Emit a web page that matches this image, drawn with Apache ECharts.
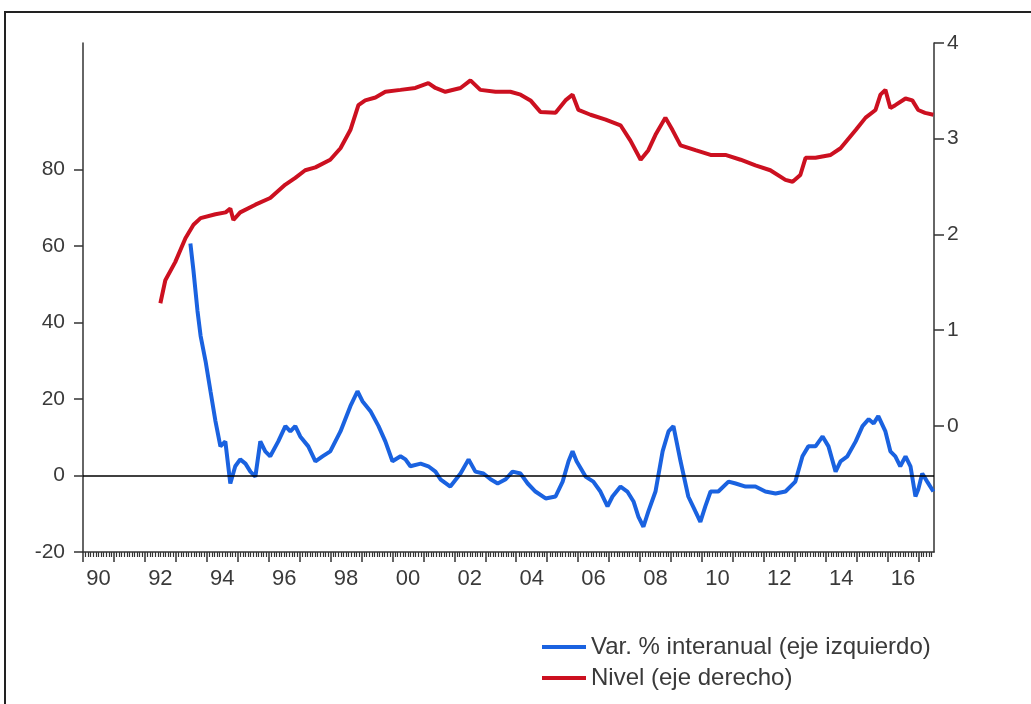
<!DOCTYPE html>
<html>
<head>
<meta charset="utf-8">
<script src="https://cdn.jsdelivr.net/npm/echarts@6/dist/echarts.min.js"></script>
<style>
  html, body { margin: 0; padding: 0; background: #fff; }
  #chart { width: 1031px; height: 704px; }
</style>
</head>
<body>
<div id="chart"></div>
<script>
// Var. % interanual (eje izquierdo)
const varYears = [
  1993.47, 1993.57, 1993.70, 1993.80, 1993.96, 1994.12, 1994.28, 1994.44, 1994.60, 1994.76,
  1994.92, 1995.08, 1995.25, 1995.41, 1995.57, 1995.73, 1995.89, 1996.05, 1996.31, 1996.54,
  1996.70, 1996.86, 1997.02, 1997.28, 1997.51, 1997.74, 1997.99, 1998.32, 1998.64, 1998.87,
  1999.03, 1999.29, 1999.55, 1999.77, 2000.00, 2000.26, 2000.42, 2000.58, 2000.91, 2001.16,
  2001.39, 2001.55, 2001.87, 2002.20, 2002.46, 2002.68, 2002.94, 2003.17, 2003.40, 2003.66,
  2003.88, 2004.14, 2004.37, 2004.62, 2004.95, 2005.27, 2005.50, 2005.69, 2005.82, 2005.95,
  2006.24, 2006.49, 2006.72, 2006.95, 2007.11, 2007.37, 2007.59, 2007.79, 2007.95, 2008.11,
  2008.27, 2008.50, 2008.73, 2008.92, 2009.08, 2009.31, 2009.56, 2009.79, 2009.95, 2010.11,
  2010.28, 2010.53, 2010.86, 2011.09, 2011.41, 2011.73, 2012.05, 2012.38, 2012.70, 2013.02,
  2013.25, 2013.44, 2013.67, 2013.90, 2014.09, 2014.32, 2014.48, 2014.70, 2014.97, 2015.19,
  2015.39, 2015.55, 2015.70, 2015.93, 2016.09, 2016.25, 2016.41, 2016.58, 2016.74, 2016.90,
  2016.99, 2017.12, 2017.28, 2017.48
];
const varValues = [
  60.6, 53.5, 43.0, 36.5, 29.9, 22.0, 14.2, 7.6, 8.9, -2.1,
  2.4, 4.2, 3.1, 1.0, -0.3, 8.9, 6.3, 5.0, 8.9, 12.9,
  11.5, 12.9, 10.2, 7.6, 3.7, 5.0, 6.3, 11.5, 18.1, 22.0,
  19.4, 16.8, 12.9, 8.9, 3.7, 5.0, 4.2, 2.4, 3.1, 2.4,
  1.0, -1.0, -2.9, 0.5, 4.2, 1.0, 0.5, -1.0, -2.1, -1.0,
  1.0, 0.5, -2.1, -4.2, -6.0, -5.5, -1.6, 3.7, 6.3, 3.7,
  -0.3, -1.6, -4.2, -8.1, -5.5, -2.9, -4.2, -6.8, -10.8, -13.4,
  -9.4, -4.2, 6.3, 11.5, 12.9, 3.7, -5.5, -9.4, -12.1, -8.1,
  -4.2, -4.2, -1.6, -2.1, -2.9, -2.9, -4.2, -4.7, -4.2, -1.6,
  5.0, 7.6, 7.6, 10.2, 7.6, 1.0, 3.7, 5.0, 8.9, 12.9,
  14.7, 13.6, 15.5, 11.5, 6.3, 5.0, 2.4, 5.0, 2.4, -5.5,
  -3.7, 0.5, -1.6, -4.2
];

// Nivel (eje derecho)
const nivelYears = [
  1992.50, 1992.66, 1992.98, 1993.31, 1993.57, 1993.80, 1994.28, 1994.61, 1994.76, 1994.86,
  1995.08, 1995.57, 1996.05, 1996.54, 1996.86, 1997.18, 1997.51, 1997.99, 1998.32, 1998.64,
  1998.90, 1999.12, 1999.45, 1999.77, 2000.26, 2000.74, 2001.16, 2001.39, 2001.71, 2002.20,
  2002.52, 2002.84, 2003.33, 2003.81, 2004.14, 2004.46, 2004.78, 2005.27, 2005.59, 2005.82,
  2006.01, 2006.40, 2006.89, 2007.37, 2007.69, 2008.02, 2008.27, 2008.50, 2008.82, 2009.05,
  2009.31, 2009.79, 2010.28, 2010.76, 2011.25, 2011.73, 2012.21, 2012.70, 2012.93, 2013.18,
  2013.35, 2013.67, 2014.16, 2014.48, 2014.97, 2015.29, 2015.61, 2015.77, 2015.93, 2016.09,
  2016.25, 2016.58, 2016.80, 2016.99, 2017.21, 2017.48
];
const nivelValues = [
  1.28, 1.52, 1.71, 1.96, 2.10, 2.17, 2.21, 2.23, 2.27, 2.15,
  2.23, 2.31, 2.38, 2.52, 2.59, 2.67, 2.70, 2.78, 2.90, 3.09,
  3.35, 3.40, 3.43, 3.49, 3.51, 3.53, 3.58, 3.53, 3.49, 3.53,
  3.61, 3.51, 3.49, 3.49, 3.46, 3.40, 3.28, 3.27, 3.40, 3.46,
  3.30, 3.25, 3.20, 3.14, 2.98, 2.78, 2.88, 3.04, 3.22, 3.09,
  2.93, 2.88, 2.83, 2.83, 2.78, 2.72, 2.67, 2.57, 2.55, 2.62,
  2.80, 2.80, 2.83, 2.90, 3.09, 3.22, 3.30, 3.46, 3.51, 3.32,
  3.35, 3.42, 3.40, 3.30, 3.27, 3.25
];

const leftTicks = [-20, 0, 20, 40, 60, 80];
const rightTicks = [0, 1, 2, 3, 4];
const yearTicks = [];
for (let y = 1990; y <= 2017; y++) yearTicks.push(y);
const yearLabels = [];
for (let y = 1990; y <= 2016; y += 2) yearLabels.push(y + 0.5);

const pair = (xs, ys) => xs.map((x, i) => [x, ys[i]]);

const chart = echarts.init(document.getElementById('chart'));
const axisColor = '#333';
const labelFont = 'Liberation Sans, Arial, sans-serif';

chart.setOption({
  backgroundColor: '#fff',
  animation: false,
  graphic: [{
    type: 'rect',
    shape: { x: 5, y: 12, width: 1100, height: 760 },
    style: { fill: 'none', stroke: '#222', lineWidth: 2 }
  }],
  grid: { left: 83, right: 97, top: 43, bottom: 152 },
  legend: {
    orient: 'vertical',
    left: 537,
    top: 630,
    icon: 'rect',
    itemWidth: 44,
    itemHeight: 4,
    itemGap: 7,
    textStyle: { fontSize: 24, color: '#3a3a3a', fontFamily: labelFont },
    data: ['Var. % interanual (eje izquierdo)', 'Nivel (eje derecho)']
  },
  xAxis: {
    type: 'value',
    min: 1990,
    max: 2017.5,
    interval: 1,
    axisLine: { onZero: false, lineStyle: { color: axisColor, width: 1.5 } },
    axisTick: { customValues: yearTicks, length: 10, lineStyle: { color: axisColor, width: 1.5 } },
    minorTick: { show: true, splitNumber: 12, length: 5, lineStyle: { color: axisColor, width: 1.2 } },
    axisLabel: {
      customValues: yearLabels,
      margin: 16,
      fontSize: 22,
      color: '#3a3a3a',
      fontFamily: labelFont,
      formatter: (v) => String(Math.floor(v) % 100).padStart(2, '0')
    },
    splitLine: { show: false }
  },
  yAxis: [{
    type: 'value',
    position: 'left',
    min: -20,
    max: 113,
    axisLine: { show: true, lineStyle: { color: axisColor, width: 1.5 } },
    axisTick: { show: true, customValues: leftTicks, length: 9, lineStyle: { color: axisColor, width: 1.5 } },
    axisLabel: { customValues: leftTicks, margin: 18, fontSize: 21, color: '#3a3a3a', fontFamily: labelFont },
    splitLine: { show: false }
  }, {
    type: 'value',
    position: 'right',
    min: -1.32,
    max: 4,
    axisLine: { show: true, lineStyle: { color: axisColor, width: 1.5 } },
    axisTick: { show: true, customValues: rightTicks, length: 10, lineStyle: { color: axisColor, width: 1.5 } },
    axisLabel: { customValues: rightTicks, margin: 13, fontSize: 21, color: '#3a3a3a', fontFamily: labelFont },
    splitLine: { show: false }
  }],
  series: [{
    name: 'Var. % interanual (eje izquierdo)',
    type: 'line',
    yAxisIndex: 0,
    data: pair(varYears, varValues),
    showSymbol: false,
    lineStyle: { color: '#1a62e0', width: 4 },
    itemStyle: { color: '#1a62e0' },
    markLine: {
      silent: true,
      symbol: 'none',
      label: { show: false },
      lineStyle: { color: '#000', width: 1.5, type: 'solid' },
      data: [{ yAxis: 0 }]
    }
  }, {
    name: 'Nivel (eje derecho)',
    type: 'line',
    yAxisIndex: 1,
    data: pair(nivelYears, nivelValues),
    showSymbol: false,
    lineStyle: { color: '#cc1020', width: 4 },
    itemStyle: { color: '#cc1020' }
  }]
});
</script>
</body>
</html>
